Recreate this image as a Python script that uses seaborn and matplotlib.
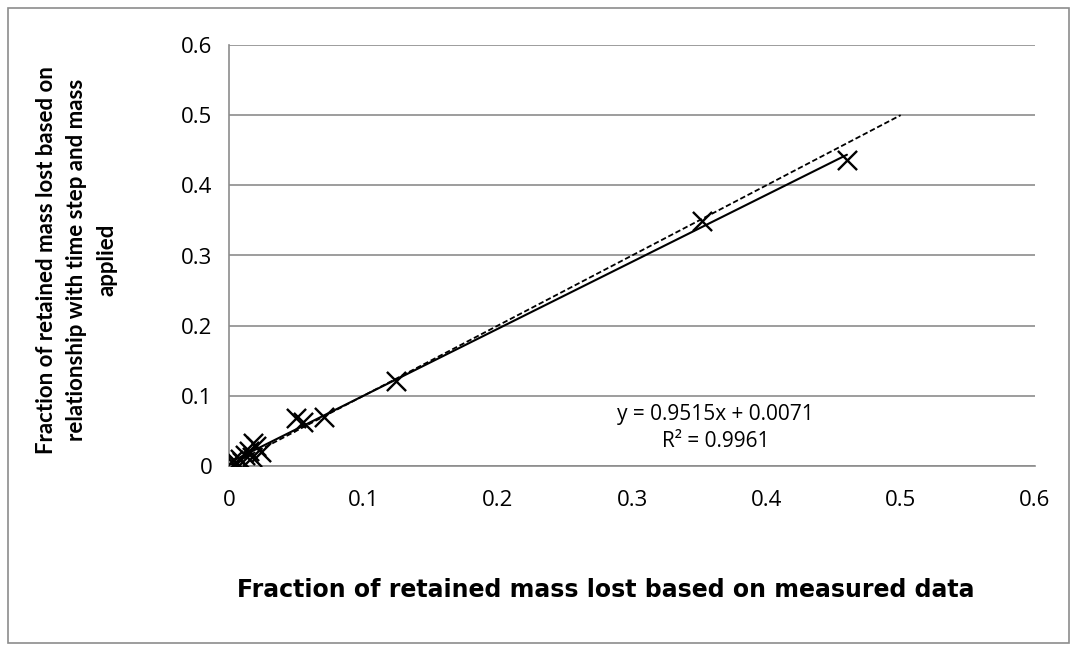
import numpy as np
import pandas as pd
import matplotlib
matplotlib.use("Agg")
import matplotlib.pyplot as plt
import seaborn as sns
from matplotlib.patches import Rectangle

# Data
measured = [0.460, 0.352, 0.124, 0.071, 0.050, 0.055, 0.018, 0.020, 0.024, 0.015,
            0.012, 0.008, 0.005, 0.004, 0.003, 0.010, 0.017]
predicted = [0.436, 0.349, 0.121, 0.070, 0.068, 0.062, 0.033, 0.028, 0.020, 0.022,
             0.015, 0.010, 0.006, 0.003, 0.008, 0.005, 0.013]
one_to_one = [0.0, 0.5]
x_ticks = [0, 0.1, 0.2, 0.3, 0.4, 0.5, 0.6]
y_ticks = [0, 0.1, 0.2, 0.3, 0.4, 0.5, 0.6]
tick_labels = ["0", "0.1", "0.2", "0.3", "0.4", "0.5", "0.6"]
equation = "y = 0.9515x + 0.0071"
r2_text = "R² = 0.9961"
xlabel = "Fraction of retained mass lost based on measured data"
ylabel = "Fraction of retained mass lost based on\nrelationship with time step and mass\napplied"

df = pd.DataFrame({"measured": measured, "predicted": predicted})

sns.set_style("white")
plt.rcParams["font.family"] = ["Open Sans", "DejaVu Sans"]
plt.rcParams["text.color"] = "black"
plt.rcParams["xtick.labelcolor"] = "black"
plt.rcParams["ytick.labelcolor"] = "black"

fig = plt.figure(figsize=(10.77, 6.51), dpi=100)
ax = fig.add_axes([229/1077, 1-466/651, (1035-229)/1077, (466-45)/651])

fig.patches.append(Rectangle((8/1077, 8/651), (1069-8)/1077, (643-8)/651,
                             transform=fig.transFigure, fill=False,
                             edgecolor="#8c8c8c", linewidth=1.2))

# 1:1 dashed line
ax.plot(one_to_one, one_to_one, linestyle=(0, (3, 1.5)), color="black", linewidth=1.3, zorder=2)

sns.regplot(data=df, x="measured", y="predicted", ax=ax, ci=None, truncate=True,
            marker="x",
            scatter_kws={"s": 190, "color": "black", "alpha": 1.0, "linewidths": 1.7, "zorder": 3},
            line_kws={"color": "black", "linewidth": 1.5, "zorder": 2})

ax.set_xlim(0, 0.6)
ax.set_ylim(0, 0.6)
ax.set_xticks(x_ticks)
ax.set_xticklabels(tick_labels)
ax.set_yticks(y_ticks)
ax.set_yticklabels(tick_labels)
ax.yaxis.grid(True, color="#8c8c8c", linewidth=1.2)
ax.xaxis.grid(False)
ax.set_axisbelow(True)
for s in ["top", "right"]:
    ax.spines[s].set_visible(False)
for s in ["left", "bottom"]:
    ax.spines[s].set_color("#8c8c8c")
    ax.spines[s].set_linewidth(1.2)
ax.tick_params(axis="both", which="both", length=8, width=1.2, color="#8c8c8c",
               direction="out", labelsize=16, labelcolor="black")
ax.tick_params(axis="x", pad=9)
ax.tick_params(axis="y", pad=4)
ax.set_xlabel("")
ax.set_ylabel("")

fig.text(606/1077, 1-590/651, xlabel, ha="center", va="center", color="black",
         fontsize=17, fontweight="bold", family=["DejaVu Sans"])
fig.text(77/1077, 1-260/651, ylabel, ha="center", va="center", rotation=90, color="black",
         fontsize=16, fontweight="bold", linespacing=1.55, family=["Lato", "Open Sans"])

ax.text(0.362, 0.074, equation, ha="center", va="center", fontsize=15, color="black")
ax.text(0.362, 0.035, r2_text, ha="center", va="center", fontsize=15, color="black")

fig.savefig("out.png", dpi=100)
